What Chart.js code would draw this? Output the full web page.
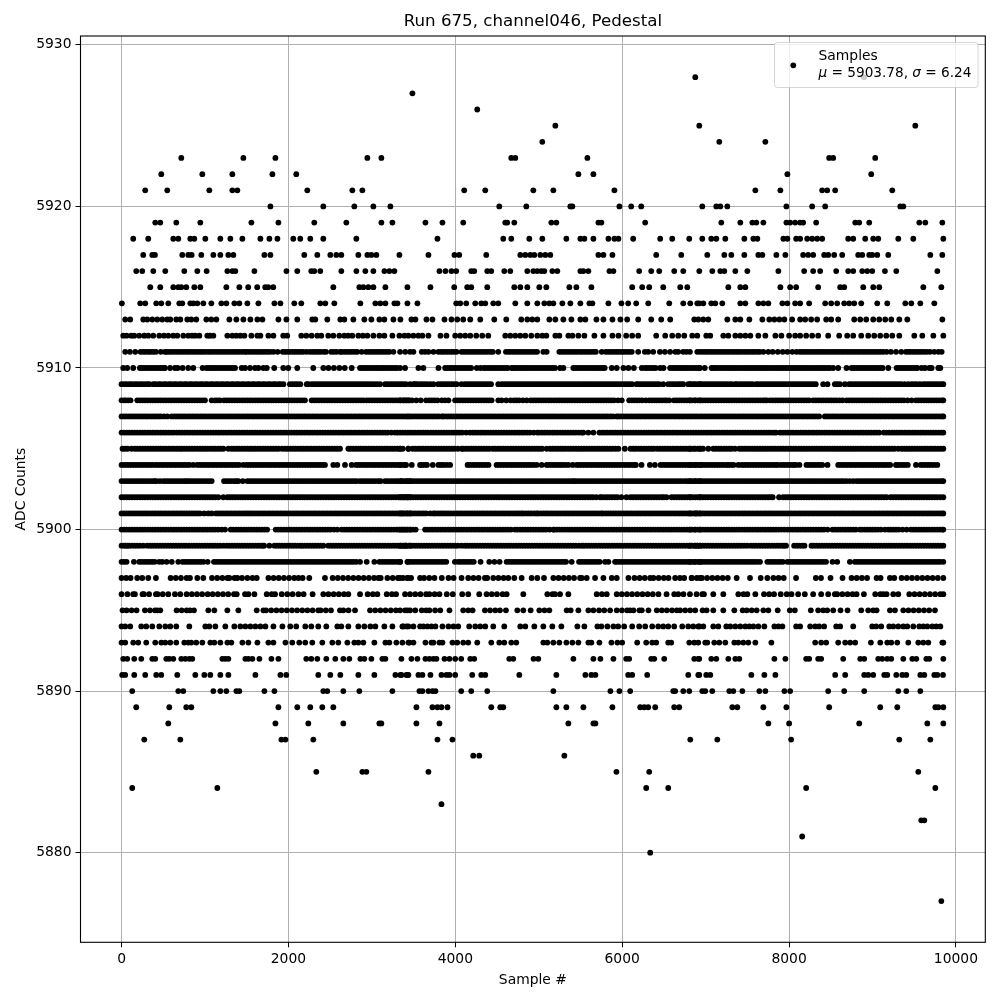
<!DOCTYPE html>
<html>
<head>
<meta charset="utf-8">
<title>Run 675, channel046, Pedestal</title>
<script src="https://cdn.jsdelivr.net/npm/chart.js@4/dist/chart.umd.min.js"></script>
<style>
html, body { margin: 0; padding: 0; background: #fff; }
canvas { display: block; }
</style>
</head>
<body>
<canvas id="pedestal" width="1000" height="1000"></canvas>
<script>
// sample numbers, one list per ADC level (dense levels are estimated)
const s5928 = [6876,8897];
const s5927 = [3486];
const s5926 = [4263];
const s5925 = [5199,6924,9513];
const s5924 = [5043,7164,7716];
const s5923 = [716,1460,1844,2946,3114,4671,4719,5583,8481,8529,9033];
const s5922 = [476,968,1328,1808,2094,5475,5655,7980,8985];
const s5921 = [284,548,1052,1328,1388,2226,2766,2886,4107,4359,4935,5175,5907,7596,7896,8397,8457,8553,9237];
const s5920 = [1784,2418,2790,3018,3222,4527,4851,5379,5403,5967,6108,6228,6960,7128,7176,7260,7968,8277,8433,9333,9369];
const s5919 = [404,464,656,944,1556,1880,2310,2694,3114,3246,3642,3846,4095,4599,4623,4707,5151,5211,5715,5751,6276,7188,7416,7560,7608,7692,7968,8013,8073,8133,8169,8325,8793,8841,8961,9561,9633,9837];
const s5918 = [140,320,620,680,824,872,1004,1184,1304,1448,1664,1772,1868,2058,2142,2262,2418,2814,3786,4575,4671,4887,5043,5331,5499,5547,5655,5835,5907,5955,6132,6456,6600,6804,6960,7068,7128,7236,7464,7572,7620,7932,7980,8085,8133,8217,8277,8337,8397,8709,8769,8913,9009,9069,9309,9489,9849];
const s5917 = [260,368,400,728,800,840,956,1100,1184,1280,1340,1712,1784,2190,2346,2502,2574,2634,2838,2946,2994,3054,3330,3678,3990,4047,4371,4779,4839,4899,4947,5019,5079,5139,5715,5775,5883,6408,6708,7020,7224,7308,7464,7632,7680,7848,7956,8169,8229,8289,8421,8469,8541,8637,8829,8877,8961,8997,9057,9189,9693,9837];
const s5916 = [176,248,380,524,752,908,1020,1268,1328,1364,1592,1976,2106,2274,2310,2382,2634,2814,2922,3018,3150,3210,3270,3810,3882,3954,4011,4191,4227,4383,4431,4587,4659,4863,4935,4983,5031,5067,5163,5223,5499,5535,5595,5847,5895,6204,6348,6444,6624,6732,6924,7080,7176,7224,7356,7500,7872,8181,8289,8373,8565,8709,8769,8877,8937,8997,9149,9285,9777];
const s5915 = [344,464,620,680,716,776,872,944,1256,1412,1518,1626,1722,1758,1818,2538,2850,2898,2958,3018,3162,3426,3702,3987,4143,4191,4383,4707,4779,4863,5007,5091,5367,5451,5631,6120,6240,6324,6492,6696,6780,7272,7416,7476,7896,8013,8085,8349,8613,8661,8889,9009,9081,9609,9825];
const s5914 = [4,224,284,416,476,560,692,728,824,860,908,980,1076,1196,1256,1352,1412,1508,1640,1832,1904,2070,2154,2382,2442,2550,2862,3042,3102,3162,3270,3306,3426,3546,4011,4059,4131,4239,4311,4359,4455,4515,4719,4863,4983,5067,5127,5175,5283,5379,5499,5607,5643,5835,5991,6072,6168,6312,6564,6732,6816,6900,6924,6972,7068,7116,7200,7416,7476,7632,7692,7752,7920,7980,8073,8133,8241,8433,8505,8577,8661,8721,8781,8865,9057,9177,9393,9465,9573,9741];
const s5913 = [44,104,260,308,368,428,488,548,584,656,704,788,836,896,1016,1076,1136,1292,1376,1460,1544,1628,1688,1880,1976,2106,2286,2322,2466,2622,2670,2778,2910,2994,3090,3150,3258,3342,3474,3522,3654,3726,3870,3954,4023,4095,4179,4299,4467,4611,4791,4863,4923,4983,5127,5199,5295,5391,5499,5559,5691,5775,5883,5979,6060,6192,6348,6468,6576,6864,6912,6972,7032,7260,7356,7416,7524,7680,7764,7824,7884,7944,8037,8133,8193,8265,8337,8445,8505,8589,8781,8853,8925,9009,9081,9153,9225,9321,9417,9837];
const s5912 = [20,60,116,152,212,272,320,380,452,508,560,620,668,740,800,846,884,932,1028,1060,1100,1268,1328,1376,1424,1472,1556,1628,1664,1760,1820,1938,1986,2154,2214,2278,2346,2394,2478,2538,2610,2670,2716,2766,2838,2892,2946,3018,3090,3150,3246,3330,3390,3438,3498,3558,3606,3678,3822,3894,3999,4059,4119,4179,4251,4323,4395,4599,4659,4719,4779,4839,4911,4983,5043,5091,5199,5247,5355,5403,5475,5547,5667,5775,5883,5955,6048,6120,6192,6408,6516,6600,6672,6744,6840,6900,7008,7056,7212,7272,7356,7416,7476,7536,7632,7716,7836,7908,8001,8073,8133,8205,8277,8349,8469,8601,8697,8769,8865,8949,9021,9093,9165,9237,9321,9501,9597,9729,9849];
const s5911 = [44,100,164,228,288,350,412,470,520,540,600,665,728,790,852,915,975,1040,1102,1165,1228,1290,1352,1412,1478,1500,1532,1595,1660,1722,1782,1820,1870,1932,1995,2058,2118,2178,2218,2258,2320,2382,2418,2450,2512,2575,2618,2638,2700,2762,2825,2878,2930,2992,3055,3118,3178,3210,3258,3338,3400,3458,3498,3598,3638,3678,3738,3798,3860,3922,3985,4015,4075,4138,4200,4262,4325,4388,4450,4515,4607,4668,4730,4792,4855,4918,4980,5055,5095,5247,5310,5372,5435,5498,5560,5622,5685,5755,5803,5865,5928,5990,6052,6115,6192,6272,6312,6372,6452,6512,6575,6638,6672,6732,6772,6812,6900,6932,6995,7058,7120,7182,7245,7308,7370,7432,7495,7558,7620,7692,7752,7804,7865,7924,7980,8040,8090,8129,8190,8252,8315,8378,8440,8502,8565,8628,8690,8752,8815,8878,8940,9002,9065,9128,9169,9221,9282,9345,9401,9429,9492,9555,9618,9689,9741,9790,9829,
  260,320,381,570,632,696,760,820,884,946,1008,1070,1134,1196,1260,1322,1384,1446,1564,1628,1690,1752,1964,2026,2088,2150,2290,2352,2544,2670,2732,2794,2962,3024,3086,3148,3830,3892,3954,4106,4168,4230,4294,4356,4420,4638,4700,4762,4824,4886,4950,5278,5340,5404,5466,5528,5592,5654,5834,5896,5958,6020,6084,6964,7026,7088,7150,7214,7276,7338,7400,7464,7526,7588,7650,8160,8222,8284,8346,8408,8470,8534,8596,8658,8720,8784,8846,8908,8970,9034,9096,9460,9522,9586,9650];
const s5910 = [20,68,140,220,282,345,408,470,500,520,582,640,672,732,800,860,972,1020,1048,1110,1172,1235,1298,1360,1440,1480,1540,1600,1640,1700,1740,1830,1938,1998,2106,2298,2418,2480,2545,2610,2675,2758,2858,2920,2985,3048,3110,3172,3235,3298,3338,3398,3558,3618,3798,3878,3940,4002,4065,4128,4190,4258,4303,4375,4440,4502,4565,4628,4675,4695,4758,4820,4882,4945,5008,5070,5132,5195,5255,5295,5415,5478,5540,5602,5665,5728,5790,5875,5935,6015,6075,6140,6235,6275,6338,6400,6455,6495,6575,6635,6698,6760,6822,6885,6932,6990,7072,7124,7186,7248,7310,7372,7434,7496,7558,7620,7682,7744,7806,7868,7930,7992,8054,8116,8178,8240,8302,8364,8426,8488,8529,8589,8689,8749,8811,8873,8935,8997,9059,9121,9189,9289,9351,9413,9475,9537,9589,9629,9681,9709,9789,9813,
  250,314,376,440,1080,1140,1204,1266,1330,2888,2952,3016,3078,3140,3204,3266,3910,3970,4034,4096,4160,4344,4408,4472,4534,4596,4726,4790,4852,4914,4976,5040,5102,5164,5446,5510,5572,5634,5696,5760,6306,6370,6606,6668,6730,6790,6852,6914,7098,7156,7218,7280,7342,7404,7466,7528,7590,7652,7714,7776,7838,7900,7962,8024,8086,8148,8210,8272,8334,8396,8458,8780,8842,8904,8966,9028,9090,9320,9382,9444,9506];
const s5909 = [0,60,122,185,248,310,332,380,442,505,568,630,692,755,818,880,942,1005,1068,1130,1192,1255,1318,1380,1442,1505,1568,1630,1692,1755,1818,1880,1940,2018,2080,2142,2238,2278,2340,2402,2465,2528,2590,2652,2715,2778,2840,2902,2965,3028,3098,3158,3220,3282,3345,3408,3458,3498,3538,3600,3662,3738,3795,3858,3920,3982,4015,4075,4115,4178,4240,4302,4365,4428,4515,4555,4618,4680,4742,4805,4868,4930,4992,5055,5118,5180,5242,5305,5368,5430,5492,5555,5618,5680,5742,5805,5868,5930,5992,6055,6118,6172,6192,6255,6318,6380,6442,6492,6552,6615,6678,6732,6792,6855,6932,6812,6875,6938,7000,7062,7125,7188,7250,7312,7352,7372,7435,7498,7560,7604,7632,7695,7758,7820,7882,7945,8008,8070,8132,8195,8258,8320,8409,8461,8549,8610,8669,8721,8783,8846,8908,8970,9033,9096,9158,9220,9282,9345,9429,9469,9530,9569,9609,9672,9735,9798,9849,
  31,94,156,219,281,406,469,531,594,656,719,781,844,906,969,1031,1094,1156,1219,1281,1344,1406,1469,1531,1594,1656,1719,1781,1844,1906,2050,2111,2219,2309,2372,2434,2496,2559,2621,2684,2746,2809,2871,2934,2996,3062,3188,3251,3314,3376,3518,3569,3631,3700,3826,3889,3951,4146,4209,4271,4334,4396,4586,4649,4711,4774,4836,4899,4961,5024,5086,5149,5211,5274,5336,5399,5461,5524,5586,5649,5711,5774,5836,5899,5961,6024,6086,6224,6286,6349,6411,6584,6646,6704,6824,6906,6969,7031,7094,7156,7219,7281,7404,7466,7529,7664,7726,7789,7851,7914,7976,8039,8101,8164,8226,8289,8579,8751,8814,8877,8939,9001,9064,9126,9189,9251,9314,9386,9499,9640,9704,9766,9829];
const s5908 = [0,50,108,188,250,312,375,438,500,562,625,688,750,812,875,938,1000,1080,1120,1180,1228,1260,1322,1385,1448,1510,1572,1635,1698,1760,1822,1885,1948,2010,2072,2135,2198,2278,2338,2400,2462,2525,2588,2650,2712,2775,2838,2900,2938,2970,3032,3095,3158,3220,3282,3345,3408,3438,3338,3386,3418,3480,3586,3650,3720,3786,3838,3918,3998,4060,4122,4185,4248,4310,4372,4435,4515,4555,4663,4703,4765,4855,4903,4965,5028,5090,5152,5215,5278,5340,5402,5465,5528,5590,5652,5715,5778,5840,5902,5995,6084,6146,6208,6284,6324,6386,6448,6510,6564,6620,6682,6745,6808,6870,6932,6812,6875,6938,7000,7062,7125,7188,7250,7312,7375,7438,7500,7562,7625,7688,7732,7772,7835,7898,7960,8022,8085,8148,8210,8289,8321,8383,8446,8508,8570,8641,8689,8751,8814,8876,8938,9001,9064,9126,9188,9251,9314,9376,9469,9521,9584,9646,9708,9771,9834,9849,
  31,80,219,281,344,406,469,531,594,656,719,781,844,906,969,1150,1291,1354,1416,1479,1541,1604,1666,1729,1791,1854,1916,1979,2041,2104,2166,2308,2369,2431,2494,2556,2619,2681,2744,2806,2869,3001,3064,3126,3189,3251,3314,3376,3450,3533,3688,3753,3878,4029,4091,4154,4216,4279,4341,4404,4610,4734,4810,4934,4996,5059,5121,5184,5246,5309,5371,5434,5496,5559,5621,5684,5746,5809,5871,5950,6115,6177,6240,6355,6417,6479,6535,6651,6714,6776,6840,6906,6969,7031,7094,7156,7219,7281,7344,7406,7469,7531,7594,7656,7710,7804,7866,7929,7991,8054,8116,8179,8240,8352,8414,8477,8539,8605,8720,8782,8845,8907,8970,9032,9095,9157,9220,9282,9345,9420,9552,9615,9677,9740,9802];
const s5907 = [0,62,125,188,250,312,375,438,508,548,600,662,725,788,850,912,975,1038,1100,1162,1225,1288,1350,1412,1475,1538,1600,1662,1725,1788,1850,1912,1975,2038,2100,2162,2225,2288,2350,2412,2475,2538,2600,2662,2725,2788,2850,2912,2975,3038,3100,3162,3225,3288,3350,3412,3458,3520,3582,3645,3708,3770,3838,3858,3920,3982,4045,4108,4170,4232,4295,4358,4420,4482,4545,4608,4670,4732,4795,4858,4920,4982,5045,5108,5170,5232,5295,5358,5420,5482,5545,5608,5670,5732,5795,5858,5935,5955,6018,6080,6142,6205,6268,6330,6392,6455,6518,6580,6642,6705,6768,6830,6892,6955,7018,7080,7142,7205,7268,7330,7392,7455,7518,7580,7642,7705,7768,7830,7892,7955,8018,8080,8142,8205,8268,8330,8429,8457,8519,8582,8644,8706,8769,8832,8894,8956,9019,9082,9144,9206,9269,9332,9394,9456,9519,9582,9644,9706,9769,9832,9849,
  31,94,156,219,281,344,406,469,631,694,756,819,881,944,1006,1069,1131,1194,1256,1319,1381,1444,1506,1569,1631,1694,1756,1819,1881,1944,2006,2069,2131,2194,2256,2319,2381,2444,2506,2569,2631,2694,2756,2819,2881,2944,3006,3069,3131,3194,3256,3319,3381,3435,3489,3551,3614,3676,3739,3800,3889,3951,4014,4076,4139,4201,4264,4326,4389,4451,4514,4576,4639,4701,4764,4826,4889,4951,5014,5076,5139,5201,5264,5326,5389,5451,5514,5576,5639,5701,5764,5826,5890,5986,6049,6111,6174,6236,6299,6361,6424,6486,6549,6611,6674,6736,6799,6861,6924,6986,7049,7111,7174,7236,7299,7361,7424,7486,7549,7611,7674,7736,7799,7861,7924,7986,8049,8111,8174,8236,8299,8360,8488,8550,8613,8675,8738,8800,8863,8925,8988,9050,9113,9175,9238,9300,9363,9425,9488,9550,9613,9675,9738,9800];
const s5906 = [0,62,125,188,250,312,375,438,500,562,625,660,692,755,818,880,942,1005,1068,1130,1192,1255,1318,1380,1442,1505,1568,1630,1692,1755,1818,1880,1942,2005,2068,2130,2192,2255,2318,2380,2442,2505,2568,2630,2692,2755,2818,2880,2942,3005,3068,3130,3192,3278,3306,3368,3458,3520,3582,3645,3708,3770,3832,3895,3958,4020,4082,4175,4207,4270,4332,4395,4458,4520,4582,4645,4708,4770,4832,4895,4983,5007,5070,5132,5195,5258,5320,5382,5445,5515,5535,5655,5727,5790,5852,5915,5978,6040,6102,6165,6228,6290,6352,6415,6478,6540,6602,6665,6728,6790,6852,6915,6978,7040,7102,7165,7228,7290,7352,7415,7478,7540,7602,7665,7728,7790,7844,7892,7955,8018,8080,8142,8205,8268,8330,8392,8455,8518,8580,8642,8705,8768,8830,8892,8955,9018,9081,9137,9200,9262,9325,9388,9450,9512,9575,9638,9700,9762,9825,9849,
  31,94,156,219,281,344,406,469,531,594,724,786,849,911,974,1036,1099,1161,1224,1286,1349,1411,1474,1536,1599,1661,1724,1786,1849,1911,1974,2036,2099,2161,2224,2286,2349,2411,2474,2536,2599,2661,2724,2786,2849,2911,2974,3036,3099,3161,3235,3337,3400,3430,3489,3551,3614,3676,3739,3801,3864,3926,3989,4051,4130,4238,4301,4364,4426,4489,4551,4614,4676,4739,4801,4864,4940,5039,5101,5164,5226,5289,5351,5414,5480,5595,5758,5821,5884,5946,6009,6071,6134,6196,6259,6321,6384,6446,6509,6571,6634,6696,6759,6821,6884,6946,7009,7071,7134,7196,7259,7321,7384,7446,7509,7571,7634,7696,7759,7820,7924,7986,8049,8111,8174,8236,8299,8361,8424,8486,8549,8611,8674,8736,8799,8861,8924,8986,9049,9168,9231,9294,9356,9419,9481,9544,9606,9669,9731,9794];
const s5905 = [12,72,120,160,222,285,348,410,472,535,598,660,692,720,782,845,908,970,1032,1095,1158,1220,1280,1320,1382,1445,1508,1570,1632,1695,1758,1820,1882,1960,1992,2055,2118,2180,2242,2305,2368,2430,2492,2555,2618,2718,2746,2808,2870,2932,2995,3058,3120,3182,3245,3308,3370,3438,3338,3438,3490,3552,3615,3678,3740,3802,3865,3928,3990,4075,4095,4158,4220,4282,4345,4407,4447,4510,4572,4635,4698,4760,4822,4885,4948,5010,5095,5135,5198,5260,5322,5385,5448,5510,5572,5635,5698,5760,5822,5885,5955,6032,6100,6132,6195,6258,6320,6380,6420,6482,6545,6608,6670,6732,6795,6858,6932,6812,6875,6938,7032,7092,7155,7218,7280,7352,7404,7466,7528,7590,7652,7714,7776,7838,7900,7962,8024,8086,8148,8210,8272,8334,8396,8458,8520,8582,8644,8706,8768,8830,8892,8954,9016,9078,9140,9202,9264,9309,9349,9411,9473,9535,9597,9659,9721,9783,9849,
  42,190,254,316,379,441,504,566,629,751,814,876,939,1001,1064,1126,1189,1350,1413,1476,1539,1601,1664,1726,1789,1851,1925,2024,2086,2149,2211,2274,2336,2399,2461,2524,2586,2777,2839,2901,2964,3026,3089,3151,3214,3276,3339,3521,3584,3646,3709,3771,3834,3896,3959,4030,4126,4189,4251,4314,4376,4478,4541,4604,4666,4729,4791,4854,4916,4979,5040,5166,5229,5291,5354,5416,5479,5541,5604,5666,5729,5791,5854,5920,6161,6226,6289,6350,6451,6514,6576,6639,6701,6764,6826,6906,6969,7123,7186,7249,7311,7435,7497,7559,7621,7683,7745,7807,7869,7931,7993,8055,8117,8179,8241,8303,8365,8427,8489,8551,8613,8675,8737,8799,8861,8923,8985,9047,9109,9171,9233,9380,9442,9504,9566,9628,9690,9752,9816];
const s5904 = [0,62,125,188,250,312,372,408,470,532,595,658,720,782,860,908,970,1032,1095,1158,1220,1282,1345,1408,1460,1500,1562,1625,1688,1750,1812,1875,1906,1938,2000,2062,2125,2188,2250,2312,2375,2438,2538,2586,2678,2758,2810,2872,2935,2998,3060,3122,3185,3248,3310,3372,3410,3338,3398,3478,3578,3598,3660,3730,3798,3860,3938,4147,4210,4272,4335,4398,4495,4527,4590,4652,4715,4778,4840,4902,4975,5035,5095,5158,5220,5282,5355,5407,5455,5518,5580,5642,5705,5768,5830,5892,5955,6018,6080,6142,6164,6232,6332,6392,6460,6522,6585,6648,6710,6772,6835,6898,6932,6812,6875,6938,7000,7062,7125,7188,7252,7272,7335,7392,7432,7495,7558,7620,7682,7745,7808,7860,7900,7962,8025,8081,8124,8209,8272,8335,8398,8461,8589,8652,8714,8776,8839,8902,8964,9027,9089,9121,9149,9212,9281,9297,9360,9423,9521,9577,9640,9703,9777,
  31,94,156,219,281,344,439,501,564,626,689,751,814,939,1001,1064,1126,1189,1251,1314,1376,1530,1594,1656,1719,1781,1844,1969,2031,2094,2156,2219,2281,2344,2406,2840,2904,2966,3029,3091,3154,3216,3279,3341,3630,3829,3899,4178,4241,4304,4366,4558,4621,4684,4746,4809,4871,4936,5126,5189,5251,5318,5486,5549,5611,5674,5736,5799,5861,5924,5986,6049,6111,6492,6554,6616,6679,6741,6804,6866,6969,7031,7094,7156,7219,7304,7464,7526,7589,7651,7714,7776,7839,7931,7994,8056,8240,8303,8366,8620,8683,8745,8808,8870,8933,8995,9058,9180,9329,9391,9608,9671,9740];
const s5903 = [0,62,125,188,250,312,375,420,460,500,562,625,688,750,800,828,890,952,1015,1080,1228,1290,1352,1400,1452,1508,1570,1632,1695,1758,1820,1882,1945,2008,2070,2132,2195,2258,2320,2382,2445,2508,2570,2632,2695,2758,2818,2858,2920,2982,3045,3078,3106,3158,3220,3282,3338,3358,3420,3458,3358,3420,3482,3545,3608,3670,3732,3795,3858,3920,3982,4045,4108,4170,4232,4295,4358,4420,4482,4545,4608,4670,4732,4795,4858,4920,4982,5045,5108,5170,5232,5295,5358,5415,5435,5498,5560,5622,5685,5748,5810,5872,5935,5998,6060,6122,6185,6248,6310,6372,6435,6498,6560,6622,6685,6752,6780,6842,6932,6812,6875,6938,7000,7062,7125,7188,7250,7312,7375,7438,7500,7562,7625,7688,7750,7812,7875,7938,8000,8062,8125,8188,8250,8312,8375,8438,8500,8562,8625,8688,8769,8809,8871,8933,8995,9057,9119,9181,9243,9305,9367,9429,9491,9553,9615,9677,9739,9801,9849,
  31,94,156,219,281,344,398,531,594,656,719,775,859,921,984,1048,1259,1321,1378,1539,1601,1664,1726,1789,1851,1914,1976,2039,2101,2164,2226,2289,2351,2414,2476,2539,2601,2664,2726,2789,2889,2951,3014,3189,3251,3310,3389,3451,3514,3576,3639,3701,3764,3826,3889,3951,4014,4076,4139,4201,4264,4326,4389,4451,4514,4576,4639,4701,4764,4826,4889,4951,5014,5076,5139,5201,5264,5326,5388,5466,5529,5591,5654,5716,5779,5841,5904,5966,6029,6091,6154,6216,6279,6341,6404,6466,6529,6591,6654,6716,6811,6874,6906,6969,7031,7094,7156,7219,7281,7344,7406,7469,7531,7594,7656,7719,7781,7844,7906,7969,8031,8094,8156,8219,8281,8344,8406,8469,8531,8594,8656,8728,8840,8902,8964,9026,9088,9150,9212,9274,9336,9398,9460,9522,9584,9646,9708,9770,9832];
const s5902 = [0,62,125,188,250,312,375,438,500,562,625,688,750,812,875,938,1000,1062,1125,1160,1220,1268,1330,1392,1455,1518,1580,1642,1705,1768,1830,1892,1955,2018,2078,2106,2168,2230,2292,2355,2418,2480,2542,2605,2668,2730,2792,2855,2918,2980,3042,3105,3168,3230,3292,3355,3418,3458,3338,3400,3462,3525,3588,3650,3712,3775,3838,3900,3962,4025,4088,4150,4212,4275,4338,4400,4462,4525,4588,4650,4712,4775,4838,4900,4962,5025,5088,5150,5212,5275,5338,5400,5462,5525,5588,5650,5735,5755,5818,5880,5942,6052,6100,6162,6225,6288,6350,6412,6475,6532,6592,6655,6718,6780,6842,6932,6812,6875,6938,7000,7062,7125,7188,7250,7312,7375,7438,7500,7562,7625,7688,7750,7804,7880,7929,7992,8054,8116,8178,8240,8302,8364,8426,8488,8550,8612,8674,8736,8798,8860,8922,8984,9046,9108,9169,9217,9280,9342,9404,9466,9528,9590,9652,9714,9776,9849,
  31,94,156,219,281,344,406,469,531,594,656,719,781,844,906,969,1031,1094,1299,1361,1424,1486,1549,1611,1674,1736,1799,1861,1924,1986,2048,2137,2199,2261,2324,2386,2449,2511,2574,2636,2699,2761,2824,2886,2949,3011,3074,3136,3199,3261,3324,3386,3431,3369,3431,3494,3556,3619,3681,3744,3806,3869,3931,3994,4056,4119,4181,4244,4306,4369,4431,4494,4556,4619,4681,4744,4806,4869,4931,4994,5056,5119,5181,5244,5306,5369,5431,5494,5556,5619,5690,5787,5849,5911,5990,6131,6194,6256,6319,6381,6444,6500,6624,6686,6749,6811,6906,6969,7031,7094,7156,7219,7281,7344,7406,7469,7531,7594,7656,7719,7778,7961,8023,8085,8147,8209,8271,8333,8395,8457,8519,8581,8643,8705,8767,8829,8891,8953,9015,9077,9139,9249,9311,9373,9435,9497,9559,9621,9683,9745,9812];
const s5901 = [0,62,125,188,250,312,375,438,500,562,625,688,750,812,875,938,1040,1080,1132,1164,1226,1288,1350,1412,1475,1532,1560,1622,1685,1748,1810,1872,1935,1998,2060,2122,2185,2248,2310,2372,2435,2498,2560,2622,2685,2748,2810,2872,2935,2998,3060,3122,3185,3248,3310,3372,3458,3338,3400,3462,3525,3588,3650,3738,3758,3820,3882,3945,4015,4075,4138,4200,4262,4325,4388,4450,4512,4575,4638,4700,4762,4815,4847,4910,4975,4995,5058,5120,5182,5245,5308,5370,5432,5495,5558,5620,5682,5747,5767,5830,5892,5955,6018,6080,6142,6205,6268,6330,6392,6455,6518,6580,6642,6705,6768,6830,6892,6932,6812,6875,6938,7000,7062,7125,7188,7250,7312,7375,7438,7500,7562,7625,7688,7750,7812,7875,7938,8000,8029,8061,8124,8186,8248,8310,8372,8434,8496,8558,8620,8682,8744,8806,8868,8930,8992,9054,9116,9178,9240,9302,9364,9426,9488,9550,9612,9674,9736,9798,9849,
  31,94,156,219,281,344,406,469,531,594,656,719,781,844,906,990,1195,1257,1319,1381,1444,1504,1591,1654,1716,1779,1841,1904,1966,2029,2091,2154,2216,2279,2341,2404,2466,2529,2591,2654,2716,2779,2841,2904,2966,3029,3091,3154,3216,3279,3341,3420,3369,3431,3494,3556,3619,3700,3789,3851,3914,3980,4045,4106,4169,4231,4294,4356,4419,4481,4544,4606,4669,4731,4790,4879,4945,5027,5089,5151,5214,5276,5339,5401,5464,5526,5589,5651,5714,5799,5861,5924,5986,6049,6111,6174,6236,6299,6361,6424,6486,6549,6611,6674,6736,6799,6861,6906,6969,7031,7094,7156,7219,7281,7344,7406,7469,7531,7594,7656,7719,7781,7844,7906,7969,8092,8155,8217,8279,8341,8403,8465,8527,8589,8651,8713,8775,8837,8899,8961,9023,9085,9147,9209,9271,9333,9395,9457,9519,9581,9643,9705,9767,9829];
const s5900 = [0,62,125,188,250,312,375,438,500,562,625,688,750,812,875,938,1000,1062,1125,1200,1240,1308,1370,1432,1495,1558,1620,1682,1745,1848,1880,1942,2005,2068,2130,2192,2255,2318,2380,2442,2505,2546,2586,2638,2700,2762,2825,2888,2950,3012,3075,3138,3200,3262,3325,3388,3458,3338,3400,3462,3525,3638,3666,3728,3790,3852,3915,3978,4040,4102,4165,4228,4290,4352,4415,4478,4540,4602,4667,4715,4778,4840,4902,4965,5028,5090,5175,5183,5245,5308,5370,5432,5495,5558,5620,5682,5745,5808,5870,5932,5995,6058,6120,6182,6245,6308,6370,6432,6495,6558,6620,6682,6745,6808,6870,6932,6812,6875,6938,7000,7062,7125,7188,7250,7312,7375,7438,7500,7562,7625,7688,7750,7812,7875,7944,7980,8042,8105,8168,8230,8292,8355,8418,8461,8521,8584,8646,8708,8771,8849,8877,8940,9002,9065,9149,9189,9252,9314,9409,9461,9524,9586,9648,9711,9774,9836,9849,
  31,94,156,219,281,344,406,469,531,594,656,719,781,844,906,969,1031,1094,1160,1339,1401,1464,1526,1589,1651,1714,1911,1974,2036,2099,2161,2224,2286,2349,2411,2474,2669,2731,2794,2856,2919,2981,3044,3106,3169,3231,3294,3356,3420,3369,3431,3494,3697,3759,3821,3884,3946,4009,4071,4134,4196,4259,4321,4384,4446,4509,4571,4634,4746,4809,4871,4934,4996,5059,5130,5214,5276,5339,5401,5464,5526,5589,5651,5714,5776,5839,5901,5964,6026,6089,6151,6214,6276,6339,6401,6464,6526,6589,6651,6714,6776,6839,6906,6969,7031,7094,7156,7219,7281,7344,7406,7469,7531,7594,7656,7719,7781,7844,7908,8011,8074,8136,8199,8261,8324,8386,8552,8615,8677,8739,8800,8909,8971,9033,9100,9220,9283,9360,9492,9555,9617,9679,9742,9805];
const s5899 = [0,50,92,124,186,260,308,370,432,495,558,620,682,745,808,870,932,995,1058,1120,1182,1260,1292,1354,1416,1478,1540,1602,1664,1708,1772,1832,1894,1956,2018,2080,2146,2166,2228,2290,2352,2418,2478,2540,2602,2664,2726,2788,2850,2912,2974,3036,3098,3160,3222,3284,3346,3408,3458,3338,3398,3410,3472,3534,3596,3658,3720,3782,3844,3906,3968,4030,4115,4143,4205,4267,4329,4391,4453,4515,4577,4639,4701,4763,4825,4887,4949,5011,5073,5135,5197,5259,5321,5383,5445,5515,5535,5597,5659,5721,5783,5845,5907,5969,6031,6093,6155,6217,6279,6341,6403,6465,6527,6589,6651,6713,6775,6837,6899,6932,6812,6874,6936,6998,7060,7122,7184,7246,7308,7370,7432,7500,7544,7606,7668,7730,7792,7854,7916,7964,8061,8123,8185,8269,8297,8361,8423,8485,8547,8609,8671,8733,8795,8857,8919,8981,9043,9105,9167,9229,9291,9353,9415,9477,9539,9601,9663,9725,9787,9849,
  31,72,156,219,340,401,463,526,589,651,713,776,839,901,963,1026,1089,1151,1220,1323,1385,1447,1509,1571,1633,1690,1863,1925,1987,2049,2111,2197,2259,2321,2385,2509,2571,2633,2695,2757,2819,2881,2943,3005,3067,3129,3191,3253,3315,3380,3368,3441,3503,3565,3627,3689,3751,3813,3875,3937,3999,4075,4174,4236,4298,4360,4422,4484,4546,4608,4670,4732,4794,4856,4918,4980,5042,5104,5166,5228,5290,5352,5414,5480,5566,5628,5690,5752,5814,5876,5938,6000,6062,6124,6186,6248,6310,6372,6434,6496,6558,6620,6682,6744,6806,6868,6905,6967,7029,7091,7153,7215,7277,7339,7401,7466,7575,7637,7699,7761,7823,7885,7940,8092,8154,8330,8392,8454,8516,8578,8640,8702,8764,8826,8888,8950,9012,9074,9136,9198,9260,9322,9384,9446,9508,9570,9632,9694,9756,9818];
const s5898 = [0,60,148,212,274,336,398,452,488,540,602,680,732,794,856,918,980,1032,1108,1170,1232,1294,1356,1418,1480,1542,1604,1666,1728,1790,1852,1914,1976,2038,2100,2162,2224,2286,2348,2410,2472,2534,2596,2658,2720,2782,2858,2938,3030,3092,3154,3216,3278,3340,3430,3338,3426,3458,3520,3582,3644,3706,3768,3830,3892,3995,4035,4097,4159,4221,4303,4407,4469,4531,4615,4647,4709,4771,4833,4895,4957,5019,5081,5143,5205,5267,5327,5395,5483,5545,5607,5669,5731,5795,5835,5915,5935,5997,6059,6121,6183,6245,6307,6369,6431,6493,6555,6617,6679,6741,6803,6865,6932,6812,6874,6936,6998,7060,7122,7184,7246,7308,7370,7432,7494,7556,7618,7652,7740,7802,7864,7926,7980,8009,8071,8133,8195,8257,8319,8381,8443,8521,8577,8729,8789,8851,8913,8975,9037,9099,9161,9223,9285,9347,9409,9471,9533,9595,9657,9719,9781,9849,
  30,243,305,367,763,825,887,949,1139,1201,1263,1325,1387,1449,1511,1573,1635,1697,1759,1821,1883,1945,2007,2069,2131,2193,2255,2317,2379,2441,2503,2565,2627,2689,2751,2813,3123,3185,3247,3309,3489,3551,3613,3675,3737,3799,3861,4066,4128,4190,4678,4740,4802,4864,4926,4988,5050,5112,5174,5236,5298,5514,5576,5638,5700,5966,6028,6090,6152,6214,6276,6338,6400,6462,6524,6586,6648,6710,6772,6834,6905,6967,7029,7091,7153,7215,7277,7339,7401,7463,7525,7587,7771,7833,7895,8040,8102,8164,8226,8288,8350,8412,8820,8882,8944,9006,9068,9130,9192,9254,9316,9378,9440,9502,9564,9626,9688,9750,9812];
const s5897 = [0,56,108,188,248,320,412,588,650,712,780,820,908,980,1084,1146,1208,1268,1292,1354,1388,1444,1508,1570,1620,1760,1822,1884,1946,2008,2070,2120,2170,2250,2438,2530,2592,2654,2716,2778,2840,2902,2964,3026,3078,3106,3186,3250,3312,3374,3430,3338,3426,3470,3578,3626,3688,3750,3838,3918,3980,4075,4155,4217,4279,4355,4383,4455,4517,4579,4635,4707,4795,4915,4983,5063,5175,5237,5299,5361,5423,5495,5515,5575,5675,5775,5875,5935,6075,6147,6209,6271,6335,6375,6437,6499,6555,6635,6692,6743,6835,6932,6832,6894,6956,7018,7080,7142,7204,7266,7372,7532,7660,7740,7812,7874,7936,8084,8321,8383,8497,8641,8749,8811,8873,8935,9049,9097,9209,9261,9349,9411,9473,9535,9597,9659,9721,9783,9849];
const s5896 = [0,70,140,160,252,268,330,412,432,494,560,640,704,780,842,904,966,1032,1092,1154,1216,1278,1348,1380,1480,1520,1592,1740,1800,1840,1920,1986,2050,2120,2182,2290,2418,2480,2542,2604,2666,2718,2858,2950,3012,3066,3178,3240,3290,3398,3458,3520,3582,3650,3690,3752,3810,3898,3970,4083,4155,4287,4375,4437,4499,4567,4615,4815,5103,5165,5195,5255,5355,5695,5757,5815,5935,5995,6057,6119,6181,6243,6305,6367,6435,6532,6624,6672,6734,6812,6892,6960,6980,7092,7212,7392,7454,7500,7596,7700,7762,7820,7900,7972,8029,8109,8189,8289,8385,8469,8549,8577,8639,8701,8761,8809,8897,9033,9095,9129,9169,9249,9309,9441,9503,9565,9627,9689,9751,9813,9849];
const s5895 = [12,60,120,180,280,340,400,428,464,660,720,780,820,868,1040,1112,1268,1400,1620,1700,1732,1794,1856,1918,1980,2042,2104,2166,2228,2290,2358,2386,2448,2510,2618,2658,2720,2798,2978,3040,3102,3164,3226,3288,3338,3426,3398,3458,3520,3598,3650,3690,3758,3820,3930,4095,4155,4207,4355,4417,4479,4535,4607,4743,4815,4903,5007,5069,5127,5335,5383,5475,5595,5655,5723,5785,5855,5935,5997,6059,6095,6135,6207,6235,6315,6415,6475,6535,6597,6655,6695,6755,6815,6875,6964,7012,7092,7212,7344,7444,7492,7552,7612,7692,7752,7864,8009,8069,8261,8349,8409,8457,8529,8617,8701,8865,8949,9009,9049,9209,9269,9369,9431,9493,9555,9617,9679,9749];
const s5894 = [0,44,104,236,296,368,452,524,584,656,812,1004,1052,1124,1244,1352,1424,1484,1544,1604,1664,1724,1820,1928,2022,2094,2202,2274,2358,2454,2586,2634,2718,2838,2910,2982,3042,3150,3246,3366,3414,3378,3438,3498,3578,3618,3666,3714,3762,3846,3918,3978,4035,4167,4239,4299,4359,4455,4587,4779,4839,4947,5055,5163,5271,5463,5547,5703,5751,5823,5895,5952,6024,6120,6204,6276,6360,6432,6492,6552,6624,6720,6792,6852,6912,6924,6972,7092,7152,7248,7296,7356,7416,7476,7524,7572,7632,7704,7824,7872,7920,8085,8133,8253,8313,8361,8421,8565,8613,8769,8997,9045,9105,9201,9249,9309,9369,9417,9489,9561,9609,9657,9717,9765,9813];
const s5893 = [0,44,140,200,296,404,476,524,584,656,752,800,836,896,968,1064,1112,1184,1268,1316,1448,1520,1628,1760,1820,1964,2046,2130,2202,2286,2406,2526,2598,2706,2790,2838,2898,3030,3162,3210,3294,3366,3438,3450,3498,3642,3714,3738,3810,3846,3966,4023,4095,4155,4263,4431,4527,4587,4671,4731,5055,5103,5175,5247,5331,5403,5475,5595,5631,5727,5871,5943,6000,6180,6288,6360,6408,6552,6588,6804,6864,6912,6996,7020,7104,7164,7236,7344,7392,7452,7512,7596,7788,8313,8385,8445,8589,8673,8733,8793,8981,9093,9177,9225,9297,9429,9549,9609,9669,9837,9849];
const s5892 = [20,68,152,236,368,404,536,572,620,716,764,812,848,1208,1244,1280,1484,1520,1568,1652,1796,1880,2214,2274,2346,2454,2562,2658,2730,2862,2910,2994,3126,3162,3354,3474,3546,3642,3690,3738,3774,3870,3930,3999,4071,4179,4227,4647,4695,4938,4995,5415,5655,5739,5895,6048,6084,6348,6384,6504,6864,6912,6924,7068,7128,7272,7356,7404,7824,7956,8205,8241,8349,8385,8649,8853,8901,9069,9117,9177,9225,9369,9477,9525,9645,9681,9849];
const s5891 = [8,44,152,284,416,476,668,884,992,1064,1184,1280,1604,1904,1974,2358,2502,2622,2838,3030,3282,3342,3414,3438,3354,3426,3558,3606,3702,3834,3894,3930,3999,4203,4311,4359,4767,5211,5559,5631,5679,6072,6120,6300,6792,6912,6924,7008,7056,7548,7704,7836,8553,8673,8901,8949,9009,9141,9177,9285,9357,9405,9573,9621,9741,9777,9845];
const s5890 = [128,680,740,1100,1184,1256,1376,1412,1712,1832,2418,2466,2658,2850,3246,3570,3606,3678,3726,3762,4071,4191,4383,5175,5859,5967,6096,6612,6636,6732,6804,6960,6996,7080,7284,7332,7440,7644,7716,7944,8013,8469,8661,8901,9309,9405,9573];
const s5889 = [176,572,776,836,1880,2106,2262,2406,2538,3534,3726,3786,3834,3906,4431,4539,4575,5211,5331,5535,5883,6216,6264,6312,6396,6624,6684,7320,7380,7692,7968,8481,9093,9297,9753,9789,9849];
const s5888 = [560,1844,2238,2658,3090,3114,3534,3810,5355,5655,5679,7752,8001,8841,9657,9849];
const s5887 = [272,704,1916,1964,2298,3786,3966,6816,7140,8025,9321,9693];
const s5886 = [4215,4287,5307];
const s5885 = [2334,2886,2934,3678,5931,6324,9549];
const s5884 = [128,1148,6288,6552,8205,9753];
const s5883 = [3834];
const s5882 = [9585,9621];
const s5881 = [8157];
const s5880 = [6336];
const s5877 = [9825];

const levels = [5928,5927,5926,5925,5924,5923,5922,5921,5920,5919,5918,5917,5916,5915,5914,5913,5912,5911,5910,5909,5908,5907,5906,5905,5904,5903,5902,5901,5900,5899,5898,5897,5896,5895,5894,5893,5892,5891,5890,5889,5888,5887,5886,5885,5884,5883,5882,5881,5880,5877];
const rows = [s5928,s5927,s5926,s5925,s5924,s5923,s5922,s5921,s5920,s5919,s5918,s5917,s5916,s5915,s5914,s5913,s5912,s5911,s5910,s5909,s5908,s5907,s5906,s5905,s5904,s5903,s5902,s5901,s5900,s5899,s5898,s5897,s5896,s5895,s5894,s5893,s5892,s5891,s5890,s5889,s5888,s5887,s5886,s5885,s5884,s5883,s5882,s5881,s5880,s5877];
const xTicks = [0,2000,4000,6000,8000,10000];
const yTicks = [5880,5890,5900,5910,5920,5930];
const legendLabel = 'Samples';
const mu = '5903.78';
const sigma = '6.24';

const font = '"DejaVu Sans"';

// spines and the matplotlib style legend box, drawn over the points
const frameAndLegend = {
  id: 'frameAndLegend',
  afterDatasetsDraw(chart) {
    const c = chart.ctx, a = chart.chartArea;
    c.save();
    c.strokeStyle = '#000';
    c.lineWidth = 1.1;
    c.strokeRect(a.left, a.top, a.right - a.left, a.bottom - a.top);

    c.beginPath();
    c.roundRect(774.5, 42.5, 203.5, 45, 3);
    c.fillStyle = 'rgba(255,255,255,0.8)';
    c.fill();
    c.strokeStyle = 'rgba(204,204,204,0.8)';
    c.lineWidth = 1;
    c.stroke();

    c.fillStyle = '#000';
    c.beginPath();
    c.arc(793.3, 65.3, 2.9, 0, Math.PI * 2);
    c.fill();

    c.textBaseline = 'alphabetic';
    c.fillStyle = '#000';
    let x = 818.5;
    c.font = '13.89px ' + font;
    c.fillText(legendLabel, x, 59.5);
    const parts = [['italic', '\u03bc'], ['normal', ' = ' + mu + ', '], ['italic', '\u03c3'], ['normal', ' = ' + sigma]];
    for (const [style, text] of parts) {
      c.font = (style === 'italic' ? 'italic ' : '') + '13.65px ' + font;
      c.fillText(text, x, 76.8);
      x += c.measureText(text).width;
    }
    c.restore();
  }
};

const points = [];
rows.forEach((row, i) => {
  row.forEach(s => points.push({ x: s, y: levels[i] }));
});

new Chart(document.getElementById('pedestal').getContext('2d'), {
  type: 'scatter',
  data: {
    datasets: [{
      label: legendLabel,
      data: points,
      backgroundColor: '#000',
      borderWidth: 0,
      pointRadius: 2.9
    }]
  },
  options: {
    responsive: false,
    animation: false,
    events: [],
    layout: { padding: { top: 0, right: 14.7, bottom: 0, left: 0 } },
    scales: {
      x: {
        type: 'linear',
        min: -492,
        max: 10352,
        afterBuildTicks: s => { s.ticks = xTicks.map(v => ({ value: v })); },
        afterFit: s => { s.height = 57.7; },
        border: { display: false },
        grid: { color: '#b0b0b0', lineWidth: 1, tickColor: '#000', tickLength: 5 },
        ticks: { color: '#000', padding: 4, maxRotation: 0, callback: v => String(v), font: { family: font, size: 13.89 } },
        title: { display: true, text: 'Sample #', color: '#000', padding: { top: 3, bottom: 11 }, font: { family: font, size: 13.89 } }
      },
      y: {
        type: 'linear',
        min: 5874.45,
        max: 5930.55,
        afterBuildTicks: s => { s.ticks = yTicks.map(v => ({ value: v })); },
        afterFit: s => { s.width = 80.5; },
        border: { display: false },
        grid: { color: '#b0b0b0', lineWidth: 1, tickColor: '#000', tickLength: 5 },
        ticks: { color: '#000', padding: 4, callback: v => String(v), font: { family: font, size: 13.89 } },
        title: { display: true, text: 'ADC Counts', color: '#000', padding: { top: 13, bottom: 0 }, font: { family: font, size: 13.89 } }
      }
    },
    plugins: {
      legend: { display: false },
      tooltip: { enabled: false },
      title: {
        display: true,
        fullSize: false,
        text: 'Run 675, channel046, Pedestal',
        color: '#000',
        padding: { top: 12, bottom: 4 },
        font: { family: font, size: 16.67, weight: 'normal' }
      }
    }
  },
  plugins: [frameAndLegend]
});
</script>
</body>
</html>
